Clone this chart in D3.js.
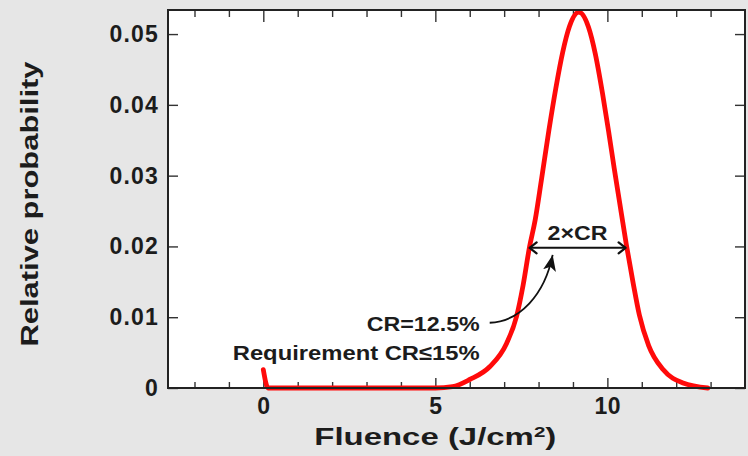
<!DOCTYPE html>
<html><head><meta charset="utf-8">
<script src="https://cdn.jsdelivr.net/npm/d3@7"></script>
<style>
html,body{margin:0;padding:0;background:#e6e6e6;}
svg{display:block;}
text{font-family:"Liberation Sans",Arial,Helvetica,sans-serif;font-weight:bold;fill:#1c1c1c;}
</style></head><body>
<svg id="chart" width="748" height="456"></svg>
<script>
// ---- data ----
const fluence = [0, 0.14, 1, 2, 3, 4, 5, 5.5, 6.0, 6.58, 7.07, 7.36, 7.55, 7.74, 7.9, 8.08, 8.3, 8.5, 8.7, 8.9, 9.17, 9.45, 9.65, 9.86, 10.05, 10.2, 10.35, 10.55, 10.75, 10.93, 11.2, 11.62, 12.2, 12.92];
const probability = [0.0026, 0, 0, 0, 0, 0, 0, 0.0002, 0.0012, 0.003, 0.0063, 0.0101, 0.0145, 0.020, 0.0237, 0.0293, 0.0364, 0.0423, 0.0474, 0.0511, 0.0531, 0.0510, 0.0472, 0.0416, 0.0358, 0.0310, 0.0264, 0.0203, 0.0148, 0.0103, 0.0060, 0.0026, 0.0007, 0];
const xMajorTicks = [0, 5, 10];
const xMinorTicks = [-2, -1, 1, 2, 3, 4, 6, 7, 8, 9, 11, 12, 13];
const yTicks = [0, 0.01, 0.02, 0.03, 0.04, 0.05];
const yTickLabels = ["0", "0.01", "0.02", "0.03", "0.04", "0.05"];
const xTitleMain = "Fluence (J/cm", xTitleSup = "2", xTitleEnd = ")";
const yTitle = "Relative probability";
// annotations (data units)
const crLabel = {text: "CR=12.5%", x: 6.29, y: 0.0080};
const reqLabel = {text: "Requirement CR≤15%", x: 6.29, y: 0.0040};
const widthArrow = {x1: 7.74, x2: 10.53, y: 0.0198, label: "2×CR"};
const pointerArrow = [[6.58, 0.00922], [7.45, 0.00937], [8.18, 0.01318], [8.41, 0.0188]];

// ---- layout ----
const L = 168, R = 745, T = 10, B = 388;
const svg = d3.select("#chart");

const x = d3.scaleLinear().domain([-2.77, 14]).range([L, R]);
const y = d3.scaleLinear().domain([0, 0.0534]).range([B, T]);

svg.append("rect").attr("x", L).attr("y", T).attr("width", R - L).attr("height", B - T).attr("fill", "#fff");

function styleAxis(g) {
  g.select(".domain").remove();
  g.selectAll(".tick line").attr("stroke", "#333").attr("stroke-width", 1.4);
  g.selectAll("text").attr("font-size", 23).attr("fill", "#1c1c1c").attr("font-family", null);
}

// bottom
svg.append("g").attr("transform", `translate(0,${B})`)
  .call(d3.axisBottom(x).tickValues(xMajorTicks).tickSize(-10).tickPadding(10).tickFormat(d3.format("d")))
  .call(styleAxis).selectAll("text").style("letter-spacing", "0.5px");
svg.append("g").attr("transform", `translate(0,${B})`)
  .call(d3.axisBottom(x).tickValues(xMinorTicks).tickSize(-6).tickFormat(""))
  .call(styleAxis);
// top
svg.append("g").attr("transform", `translate(0,${T})`)
  .call(d3.axisTop(x).tickValues(xMajorTicks).tickSize(-12).tickFormat(""))
  .call(styleAxis);
svg.append("g").attr("transform", `translate(0,${T})`)
  .call(d3.axisTop(x).tickValues(xMinorTicks).tickSize(-7).tickFormat(""))
  .call(styleAxis);
// left
svg.append("g").attr("transform", `translate(${L},0)`)
  .call(d3.axisLeft(y).tickValues(yTicks).tickSize(-10).tickPadding(9).tickFormat((d, i) => yTickLabels[i]))
  .call(styleAxis).selectAll("text").style("letter-spacing", "1.2px");
// right
svg.append("g").attr("transform", `translate(${R},0)`)
  .call(d3.axisRight(y).tickValues(yTicks).tickSize(-10).tickFormat(""))
  .call(styleAxis);

// curve
const pts = fluence.map((f, i) => [f, probability[i]]);
svg.append("path").datum(pts)
  .attr("fill", "none").attr("stroke", "#ff0a0a").attr("stroke-width", 4.8)
  .attr("stroke-linejoin", "round").attr("stroke-linecap", "round")
  .attr("d", d3.line().x(d => x(d[0])).y(d => y(d[1])).curve(d3.curveMonotoneX));

// frame
svg.append("rect").attr("x", L).attr("y", T).attr("width", R - L).attr("height", B - T)
  .attr("fill", "none").attr("stroke", "#222").attr("stroke-width", 2);

// markers
const defs = svg.append("defs");
defs.append("marker").attr("id", "chev").attr("markerUnits", "userSpaceOnUse")
  .attr("viewBox", "-10 -7 12 14").attr("refX", 0).attr("refY", 0)
  .attr("markerWidth", 12).attr("markerHeight", 14).attr("orient", "auto-start-reverse")
  .append("path").attr("d", "M-7,-5.5 L0,0 L-7,5.5").attr("fill", "none").attr("stroke", "#111").attr("stroke-width", 2.2).attr("stroke-linecap", "round").attr("stroke-linejoin", "round");
defs.append("marker").attr("id", "tri").attr("markerUnits", "userSpaceOnUse")
  .attr("viewBox", "-16 -7 17 14").attr("refX", 0).attr("refY", 0)
  .attr("markerWidth", 17).attr("markerHeight", 14).attr("orient", "auto")
  .append("path").attr("d", "M-16,-6.5 L0,0 L-16,6.5 L-12,0 Z").attr("fill", "#111");

// double arrow
svg.append("line")
  .attr("x1", x(widthArrow.x1)).attr("x2", x(widthArrow.x2))
  .attr("y1", y(widthArrow.y)).attr("y2", y(widthArrow.y))
  .attr("stroke", "#111").attr("stroke-width", 2)
  .attr("marker-start", "url(#chev)").attr("marker-end", "url(#chev)");
svg.append("text").attr("x", x((widthArrow.x1 + widthArrow.x2) / 2)).attr("y", y(widthArrow.y) - 8)
  .attr("text-anchor", "middle").attr("font-size", 21)
  .attr("textLength", 60).attr("lengthAdjust", "spacingAndGlyphs").text(widthArrow.label);

// pointer arrow
const p = pointerArrow.map(d => [x(d[0]), y(d[1])]);
svg.append("path")
  .attr("d", `M${p[0][0]},${p[0][1]} C${p[1][0]},${p[1][1]} ${p[2][0]},${p[2][1]} ${p[3][0]},${p[3][1]}`)
  .attr("fill", "none").attr("stroke", "#111").attr("stroke-width", 1.8)
  .attr("marker-end", "url(#tri)");

// labels
svg.append("text").attr("x", x(crLabel.x)).attr("y", y(crLabel.y)).attr("text-anchor", "end")
  .attr("font-size", 21).attr("textLength", 113).attr("lengthAdjust", "spacingAndGlyphs").text(crLabel.text);
svg.append("text").attr("x", x(reqLabel.x)).attr("y", y(reqLabel.y)).attr("text-anchor", "end")
  .attr("font-size", 21).attr("textLength", 247).attr("lengthAdjust", "spacingAndGlyphs").text(reqLabel.text);

// axis titles
const xt = svg.append("text").attr("x", x(5)).attr("y", 445).attr("text-anchor", "middle")
  .attr("font-size", 24).attr("textLength", 242).attr("lengthAdjust", "spacingAndGlyphs");
xt.append("tspan").text(xTitleMain);
xt.append("tspan").attr("font-size", 15).attr("dy", -8).text(xTitleSup);
xt.append("tspan").attr("dy", 8).text(xTitleEnd);
svg.append("text").attr("transform", `translate(38,${(T + B) / 2 + 5}) rotate(-90)`).attr("text-anchor", "middle")
  .attr("font-size", 24).attr("textLength", 285).attr("lengthAdjust", "spacingAndGlyphs").text(yTitle);
</script>
</body></html>
